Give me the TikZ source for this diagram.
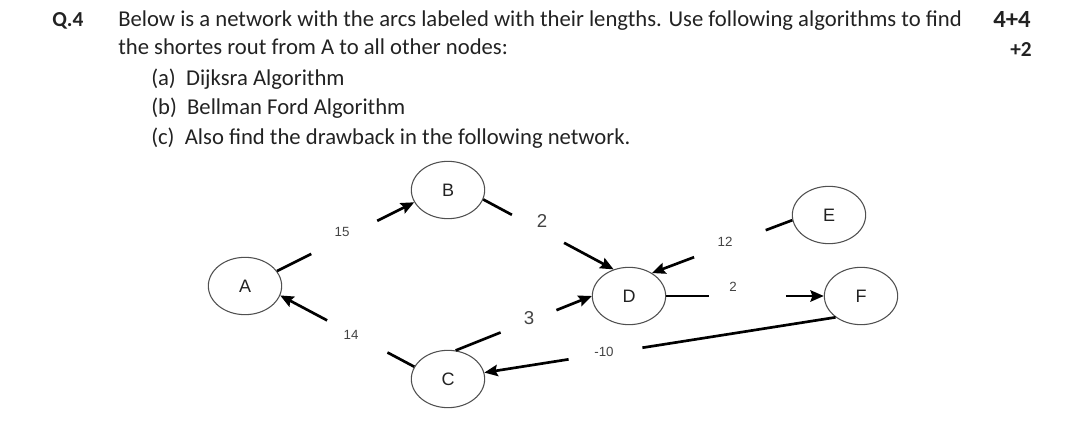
\documentclass[tikz,border=0pt]{standalone}
\usepackage{fontspec}
\setmainfont{Carlito}
\newfontfamily\arialfont{Liberation Sans}
\usetikzlibrary{arrows.meta,calc,shapes.geometric}
\definecolor{ink}{HTML}{222222}
\definecolor{rim}{HTML}{505050}

\begin{document}
\begin{tikzpicture}[x=0.75pt,y=-0.75pt,
  vertex/.style={ellipse,draw=rim,line width=0.8pt,minimum width=55pt,minimum height=43pt,inner sep=0pt,font=\arialfont\fontsize{13.5}{14}\selectfont,text=ink},
  weight/.style={font=\arialfont\fontsize{10}{11}\selectfont,text=ink!85},
  bigweight/.style={font=\arialfont\fontsize{14}{15}\selectfont,text=ink!85},
  arc/.style={black,line width=2pt},
  tip/.style={arc,-{Stealth[length=10pt,width=8.5pt,inset=1.5pt]}},
  line/.style={anchor=base west,inner sep=0pt,font=\fontsize{17}{19}\selectfont,text=ink}]
\useasboundingbox (0,0) rectangle (1080,424);
% question text
\node[line,font=\bfseries\fontsize{16}{18}\selectfont] (qno) at (52,27) {Q.4};
\node[line] (l1) at (118,27) {Below is a network with the arcs labeled with their lengths. Use following algorithms to find};
\node[line] (l2) at (118,55) {the shortes rout from A to all other nodes:};
\node[line] (pa) at (151,86) {(a)\ \ Dijksra Algorithm};
\node[line] (pb) at (151,115) {(b)\ \ Bellman Ford Algorithm};
\node[line] (pc) at (151,144) {(c)\ \ Also find the drawback in the following network.};
\node[line,font=\bfseries\fontsize{18.5}{20}\selectfont] (mk1) at (993,28) {4+4};
\node[line,font=\bfseries\fontsize{16}{18}\selectfont] (mk2) at (1010,57) {+2};
% network
\node[vertex] (A) at (245,286) {A};
\node[vertex] (B) at (448,190) {B};
\node[vertex] (C) at (448,379) {C};
\node[vertex] (D) at (629,296) {D};
\node[vertex] (E) at (829,215) {E};
\node[vertex] (F) at (861,296) {F};
% arcs, each one broken in the middle
\draw[arc] (A.25) -- ($(A.25)!0.25!(B.200)$);
\draw[tip] ($(A.25)!0.73!(B.200)$) -- (B.200);
\draw[arc] (C.160) -- ($(C.160)!0.2!(A.345)$);
\draw[tip] ($(C.160)!0.65!(A.345)$) -- (A.345);
\draw[arc] (B.345) -- ($(B.345)!0.22!(D.120)$);
\draw[tip] ($(B.345)!0.62!(D.120)$) -- (D.120);
\draw[arc] (C.75) -- ($(C.75)!0.33!(D.west)$);
\draw[tip] ($(C.75)!0.74!(D.west)$) -- (D.west);
\draw[arc] (E.188) -- ($(E.188)!0.19!(D.45)$);
\draw[tip] ($(E.188)!0.70!(D.45)$) -- (D.45);
\draw[arc] (D.east) -- ($(D.east)!0.27!(F.west)$);
\draw[tip] ($(D.east)!0.76!(F.west)$) -- (F.west);
\draw[arc] (F.220) -- ($(F.220)!0.55!(C.10)$);
\draw[tip] ($(F.220)!0.76!(C.10)$) -- (C.10);
% arc lengths
\node[weight] (wab) at (342,232) {15};
\node[weight] (wca) at (351,335) {14};
\node[bigweight] (wbd) at (542,221) {2};
\node[bigweight] (wcd) at (529,318) {3};
\node[weight] (wed) at (725,242) {12};
\node[weight] (wdf) at (733,287) {2};
\node[weight] (wfc) at (604,352) {-10};
\end{tikzpicture}
\end{document}
